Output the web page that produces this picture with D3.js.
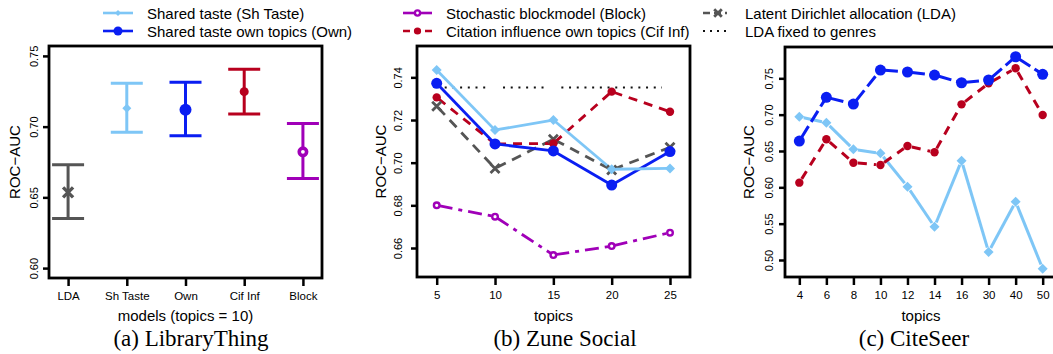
<!DOCTYPE html>
<html><head><meta charset="utf-8">
<script src="https://cdn.jsdelivr.net/npm/d3@7"></script>
<style>
body{margin:0;background:#fff;}
svg{display:block;}
text{font-family:"Liberation Sans",Arial,sans-serif;fill:#000;}
</style></head>
<body><svg id="chart" width="1053" height="354"></svg>
<script>
// ---------- DATA ----------
const catsA = ["LDA","Sh Taste","Own","Cif Inf","Block"];
const meanA = [0.6535, 0.7130, 0.7120, 0.7247, 0.6822];
const lowA  = [0.6350, 0.6960, 0.6935, 0.7089, 0.6633];
const highA = [0.6730, 0.7306, 0.7313, 0.7405, 0.7023];
const yTicksA = [0.60, 0.65, 0.70, 0.75];

const topicsB = [5, 10, 15, 20, 25];
const shTasteB = [0.7434, 0.7153, 0.7200, 0.6969, 0.6973];
const ownB     = [0.7372, 0.7088, 0.7055, 0.6895, 0.7052];
const cifB     = [0.7306, 0.7088, 0.7090, 0.7333, 0.7239];
const ldaB     = [0.7265, 0.6973, 0.7110, 0.6966, 0.7072];
const blockB   = [0.6800, 0.6747, 0.6567, 0.6609, 0.6672];
const ldaFixedTopicsB = [5, 10, 15, 25];
const ldaFixedB = [0.7353, 0.7353, 0.7353, 0.7353];
const yTicksB = [0.66, 0.68, 0.70, 0.72, 0.74];

const topicsC = ["4","6","8","10","12","14","16","30","40","50"];
const ownC     = [0.6637, 0.7239, 0.7146, 0.7614, 0.7587, 0.7545, 0.7439, 0.7477, 0.7797, 0.7555];
const cifC     = [0.6064, 0.6661, 0.6339, 0.6307, 0.6569, 0.6482, 0.7142, 0.7431, 0.7638, 0.6995];
const shTasteC = [0.6972, 0.6889, 0.6523, 0.6468, 0.6009, 0.5458, 0.6366, 0.5110, 0.5802, 0.4880];
const yTicksC = [0.50, 0.55, 0.60, 0.65, 0.70, 0.75];

const legendLabels = ["Shared taste (Sh Taste)","Shared taste own topics (Own)",
  "Stochastic blockmodel (Block)","Citation influence own topics (Cif Inf)",
  "Latent Dirichlet allocation (LDA)","LDA fixed to genres"];
const titles = ["(a) LibraryThing","(b) Zune Social","(c) CiteSeer"];
const xTitles = ["models (topics = 10)","topics","topics"];
const yTitle = "ROC\u2212AUC";

// ---------- STYLES ----------
const C = {sh:"#7ec6f6", own:"#0a1ef2", cif:"#b8001e", lda:"#555555", block:"#a000b8", fixed:"#111"};
const S = {
  sh:   {color:C.sh,   dash:null,          marker:"diamond", size:5},
  own:  {color:C.own,  dash:null,          marker:"dot",     size:5.5},
  cif:  {color:C.cif,  dash:"9,7",         marker:"dot",     size:4.2},
  lda:  {color:C.lda,  dash:"10,7",        marker:"x",       size:4.5},
  block:{color:C.block,dash:"14,6,4,6",    marker:"open",    size:4},
  fixed:{color:C.fixed,dash:"2,5.7",       marker:null,      size:0}
};
const sizeA = {lda:5, sh:4.5, own:6, cif:4.5, block:5.5};
const catStyle = {"LDA":"lda","Sh Taste":"sh","Own":"own","Cif Inf":"cif","Block":"block"};

const svg = d3.select("#chart");

function drawMarker(g, type, x, y, color, s, sw){
  if(!type) return;
  if(type==="dot"){
    g.append("circle").attr("cx",x).attr("cy",y).attr("r",s).attr("fill",color);
  } else if(type==="open"){
    const w = sw||2.4;
    g.append("circle").attr("cx",x).attr("cy",y).attr("r",s-w/2).attr("fill","#fff")
      .attr("stroke",color).attr("stroke-width",w);
  } else if(type==="diamond"){
    g.append("path").attr("d",`M${x},${y-s}L${x+s},${y}L${x},${y+s}L${x-s},${y}Z`).attr("fill",color);
  } else if(type==="x"){
    g.append("path").attr("d",`M${x-s},${y-s}L${x+s},${y+s}M${x-s},${y+s}L${x+s},${y-s}`)
      .attr("stroke",color).attr("stroke-width",sw||2.8).attr("fill","none");
  }
}

function segLines(g, pts, gap, st, lw){
  for(let i=0;i<pts.length-1;i++){
    const [x0,y0]=pts[i],[x1,y1]=pts[i+1];
    const dx=x1-x0, dy=y1-y0, L=Math.hypot(dx,dy);
    if(L<=2*gap) continue;
    const ux=dx/L, uy=dy/L;
    const ln = g.append("line").attr("x1",x0+ux*gap).attr("y1",y0+uy*gap)
      .attr("x2",x1-ux*gap).attr("y2",y1-uy*gap)
      .attr("stroke",st.color).attr("stroke-width",lw).attr("fill","none");
    if(st.dash) ln.attr("stroke-dasharray",st.dash);
  }
}

function frame(box){
  svg.append("rect").attr("x",box.x0).attr("y",box.y0)
    .attr("width",box.x1-box.x0).attr("height",box.y1-box.y0)
    .attr("fill","none").attr("stroke","#000").attr("stroke-width",2.8);
}

function yAxis(box, y, ticks, labelX, titleX){
  const g = svg.append("g").attr("transform",`translate(${box.x0},0)`)
    .call(d3.axisLeft(y).tickValues(ticks).tickSize(6).tickFormat(d3.format(".2f")));
  g.select(".domain").remove();
  g.selectAll(".tick line").attr("stroke","#000").attr("stroke-width",2.5);
  g.selectAll(".tick text")
    .attr("x",0).attr("dy",null).attr("y",0)
    .attr("text-anchor","middle").attr("dominant-baseline","central")
    .attr("transform",`translate(${labelX-box.x0},0) rotate(-90)`)
    .style("font-size","11px").style("font-family","'Liberation Sans',Arial,sans-serif");
  svg.append("text").attr("transform",`translate(${titleX},${(box.y0+box.y1)/2}) rotate(-90)`)
    .attr("text-anchor","middle").attr("dominant-baseline","central")
    .style("font-size","15px").text(yTitle);
}

function xAxis(box, x, ticks, fmt){
  const ax = d3.axisBottom(x).tickSize(8).tickPadding(5.5);
  if(ticks) ax.tickValues(ticks);
  if(fmt) ax.tickFormat(fmt);
  const g = svg.append("g").attr("transform",`translate(0,${box.y1})`).call(ax);
  g.select(".domain").remove();
  g.selectAll(".tick line").attr("stroke","#000").attr("stroke-width",2.5);
  g.selectAll(".tick text").style("font-size","11.5px").style("font-family","'Liberation Sans',Arial,sans-serif");
}

function titlesFor(box, i, titleCx){
  svg.append("text").attr("x",(box.x0+box.x1)/2).attr("y",321)
    .attr("text-anchor","middle").style("font-size","15px").text(xTitles[i]);
  svg.append("text").attr("x",titleCx).attr("y",346)
    .attr("text-anchor","middle").style("font-size","23px")
    .style("font-family","'Liberation Serif','Times New Roman',serif").text(titles[i]);
}

// ---------- PANEL A ----------
{
  const box={x0:49,x1:322,y0:46,y1:278};
  const x=d3.scalePoint().domain(catsA).range([box.x0,box.x1]).padding(0.325);
  const y=d3.scaleLinear().domain([0.593,0.757]).range([box.y1,box.y0]);
  frame(box);
  yAxis(box,y,yTicksA,33.5,14);
  xAxis(box,x);
  const g=svg.append("g");
  catsA.forEach((c,i)=>{
    const k=catStyle[c], st=S[k], cx=x(c);
    g.append("path").attr("d",`M${cx},${y(lowA[i])}V${y(highA[i])}M${cx-16},${y(lowA[i])}H${cx+16}M${cx-16},${y(highA[i])}H${cx+16}`)
      .attr("stroke",st.color).attr("stroke-width",3).attr("fill","none");
    drawMarker(g, st.marker, cx, y(meanA[i]), st.color, sizeA[k], k==="block"?3.6:(k==="lda"?3.4:null));
  });
  titlesFor(box,0,191);
}

// ---------- PANEL B ----------
{
  const box={x0:417,x1:690,y0:46,y1:277};
  const x=d3.scaleLinear().domain([5,25]).range([436.7,670]);
  const y=d3.scaleLinear().domain([0.6464,0.7547]).range([box.y1,box.y0]);
  frame(box);
  yAxis(box,y,yTicksB,397.5,380);
  xAxis(box,x,topicsB,d3.format("d"));
  const g=svg.append("g");
  segLines(g, ldaFixedTopicsB.map((t,i)=>[x(t),y(ldaFixedB[i])]), 8, S.fixed, 2);
  const series=[["block",blockB],["lda",ldaB],["cif",cifB],["own",ownB],["sh",shTasteB]];
  series.forEach(([k,vals])=>{
    const pts=topicsB.map((t,i)=>[x(t),y(vals[i])]);
    segLines(g, pts, 2, S[k], 2.8);
  });
  series.forEach(([k,vals])=>{
    topicsB.forEach((t,i)=>drawMarker(g,S[k].marker,x(t),y(vals[i]),S[k].color,S[k].size));
  });
  titlesFor(box,1,565);
}

// ---------- PANEL C ----------
{
  const box={x0:785,x1:1057,y0:47,y1:277};
  const x=d3.scalePoint().domain(topicsC).range([box.x0,box.x1]).padding(0.53);
  const y=d3.scaleLinear().domain([0.4766,0.7931]).range([box.y1,box.y0]);
  frame(box);
  yAxis(box,y,yTicksC,769,748);
  xAxis(box,x);
  const g=svg.append("g");
  const series=[["sh",shTasteC],["cif",cifC],["own",ownC]];
  const stC={sh:S.sh, cif:S.cif, own:Object.assign({},S.own,{dash:"13,5"})};
  series.forEach(([k,vals])=>{
    const pts=topicsC.map((t,i)=>[x(t),y(vals[i])]);
    segLines(g, pts, 4.5, stC[k], 3);
  });
  series.forEach(([k,vals])=>{
    topicsC.forEach((t,i)=>drawMarker(g,stC[k].marker,x(t),y(vals[i]),stC[k].color,stC[k].size));
  });
  titlesFor(box,2,914);
}

// ---------- LEGEND ----------
{
  const keys=["sh","own","block","cif","lda","fixed"];
  const cols=[{x0:103,x1:133,tx:147},{x0:403,x1:432,tx:446},{x0:703,x1:727,tx:745}];
  const rows=[13,31];
  const g=svg.append("g");
  keys.forEach((k,i)=>{
    const c=cols[Math.floor(i/2)], yy=rows[i%2], st=S[k];
    const ln=g.append("line").attr("x1",c.x0).attr("x2",c.x1).attr("y1",yy).attr("y2",yy)
      .attr("stroke",st.color).attr("stroke-width",k==="fixed"?2:2.6);
    if(k==="cif"||k==="lda") ln.attr("stroke-dasharray","7,4");
    if(k==="fixed") ln.attr("stroke-dasharray","2,5");
    const ms={sh:3,own:4.5,block:3.8,cif:3.6,lda:3.8}[k];
    drawMarker(g, st.marker, (c.x0+c.x1)/2+(k==="lda"?3:0), yy, st.color, ms);
    g.append("text").attr("x",c.tx).attr("y",yy+5.5).style("font-size","15px").text(legendLabels[i]);
  });
}
</script></body></html>
